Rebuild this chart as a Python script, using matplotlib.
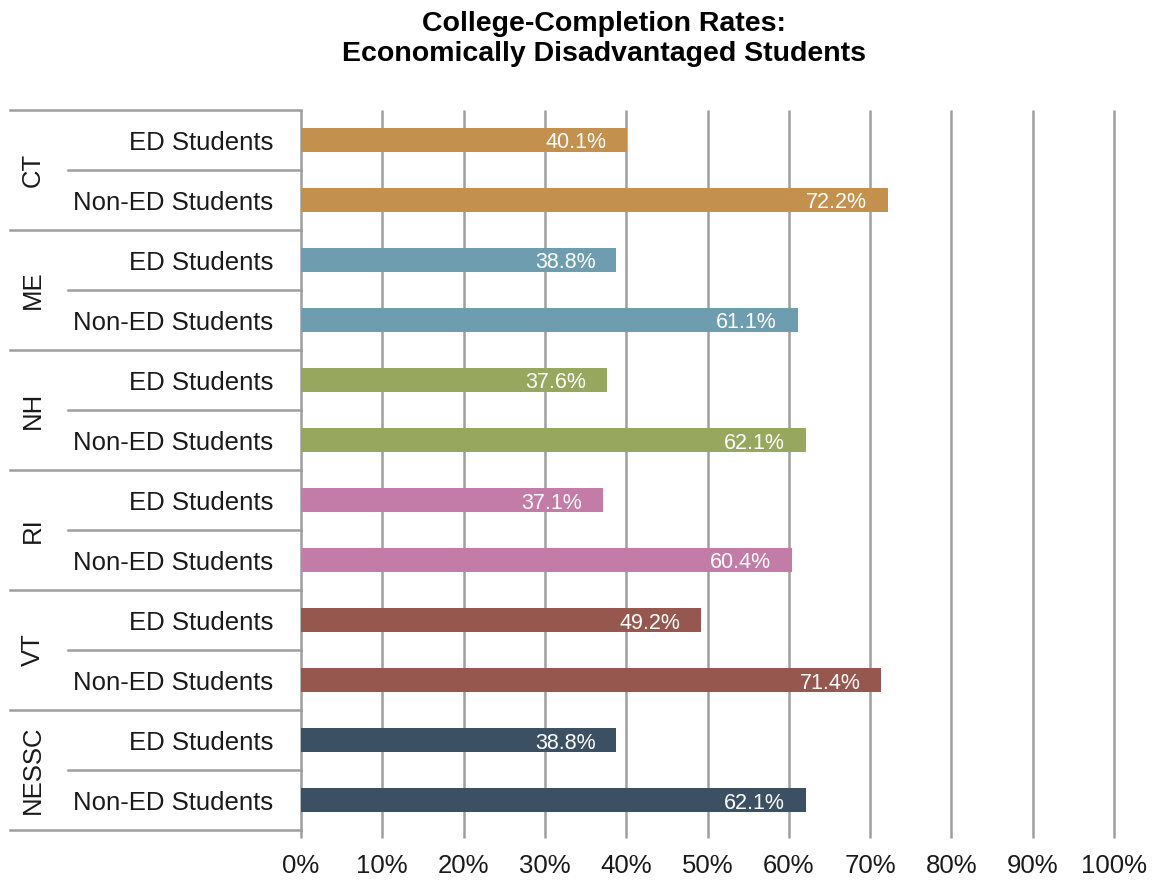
import matplotlib
matplotlib.use("Agg")
import matplotlib.pyplot as plt
import matplotlib.transforms as mtransforms
from matplotlib.lines import Line2D

plt.rcParams['font.family'] = ['Liberation Sans', 'DejaVu Sans']

states = ["CT", "ME", "NH", "RI", "VT", "NESSC"]
groups = ["ED Students", "Non-ED Students"]
ed_rates = [40.1, 38.8, 37.6, 37.1, 49.2, 38.8]
non_ed_rates = [72.2, 61.1, 62.1, 60.4, 71.4, 62.1]
state_colors = ["#C4904E", "#6D9DAE", "#98A75E", "#C37BA8", "#95574E", "#3C5064"]
x_ticks = [0, 10, 20, 30, 40, 50, 60, 70, 80, 90, 100]
x_tick_labels = [f"{t}%" for t in x_ticks]

W, H = 1154, 880
fig = plt.figure(figsize=(W / 100, H / 100), dpi=100)
ax_left, ax_right, ax_top, ax_bottom = 301, 1114, 110, 830
ax = fig.add_axes([ax_left / W, 1 - ax_bottom / H,
                   (ax_right - ax_left) / W, (ax_bottom - ax_top) / H])

grid_color = "#9E9E9E"
text_color = "#1a1a1a"
lw = 1.8
n_rows = len(states) * 2
tick_ext = 0.13
text_dy = 0.05
ax.set_ylim(n_rows, 0)
ax.set_xlim(0, 100)

# bars, one row per state/group pair
for i, st in enumerate(states):
    for j, val in enumerate([ed_rates[i], non_ed_rates[i]]):
        y = i * 2 + j + 0.5
        ax.barh(y, val, height=0.4, color=state_colors[i], zorder=3)
        ax.annotate(f"{val:.1f}%", xy=(val, y + text_dy), xytext=(-15, 0),
                    textcoords="offset points", ha="right", va="center",
                    color="white", fontsize=15.5, zorder=4)

# axes styling: vertical gridlines run slightly past the bottom as ticks
for side in ["top", "right", "bottom", "left"]:
    ax.spines[side].set_visible(False)
ax.set_xticks(x_ticks)
ax.set_xticklabels(x_tick_labels, fontsize=18.5, color=text_color)
ax.tick_params(axis="x", length=0, pad=17)
ax.set_yticks([])
for xt in x_ticks:
    ax.plot([xt, xt], [0, n_rows + tick_ext], color=grid_color, lw=lw,
            clip_on=False, zorder=1, solid_capstyle="butt")

# category labels and separator lines in the left margin
trans = mtransforms.blended_transform_factory(ax.transAxes, ax.transData)
ax_w = ax_right - ax_left
x_outer = (10 - ax_left) / ax_w
x_inner = (68 - ax_left) / ax_w
x_lab = (273 - ax_left) / ax_w
x_state = (33 - ax_left) / ax_w
for i, st in enumerate(states):
    top = i * 2
    ax.add_line(Line2D([x_outer, 0], [top, top], transform=trans,
                       color=grid_color, lw=lw, clip_on=False))
    ax.add_line(Line2D([x_inner, 0], [top + 1, top + 1], transform=trans,
                       color=grid_color, lw=lw, clip_on=False))
    for j, g in enumerate(groups):
        ax.text(x_lab, top + j + 0.5 + text_dy, g, transform=trans, ha="right",
                va="center", fontsize=18.5, color=text_color)
    ax.text(x_state, top + 1, st, transform=trans, ha="center", va="center",
            rotation=90, fontsize=18.5, color=text_color)
ax.add_line(Line2D([x_outer, 0], [n_rows, n_rows], transform=trans,
                   color=grid_color, lw=lw, clip_on=False))

fig.text(604 / W, 1 - 39 / H,
         "College-Completion Rates:\nEconomically Disadvantaged Students",
         ha="center", va="center", fontsize=20.5, fontweight="bold",
         linespacing=1.22, color="black")

fig.savefig("out.png", dpi=100)
